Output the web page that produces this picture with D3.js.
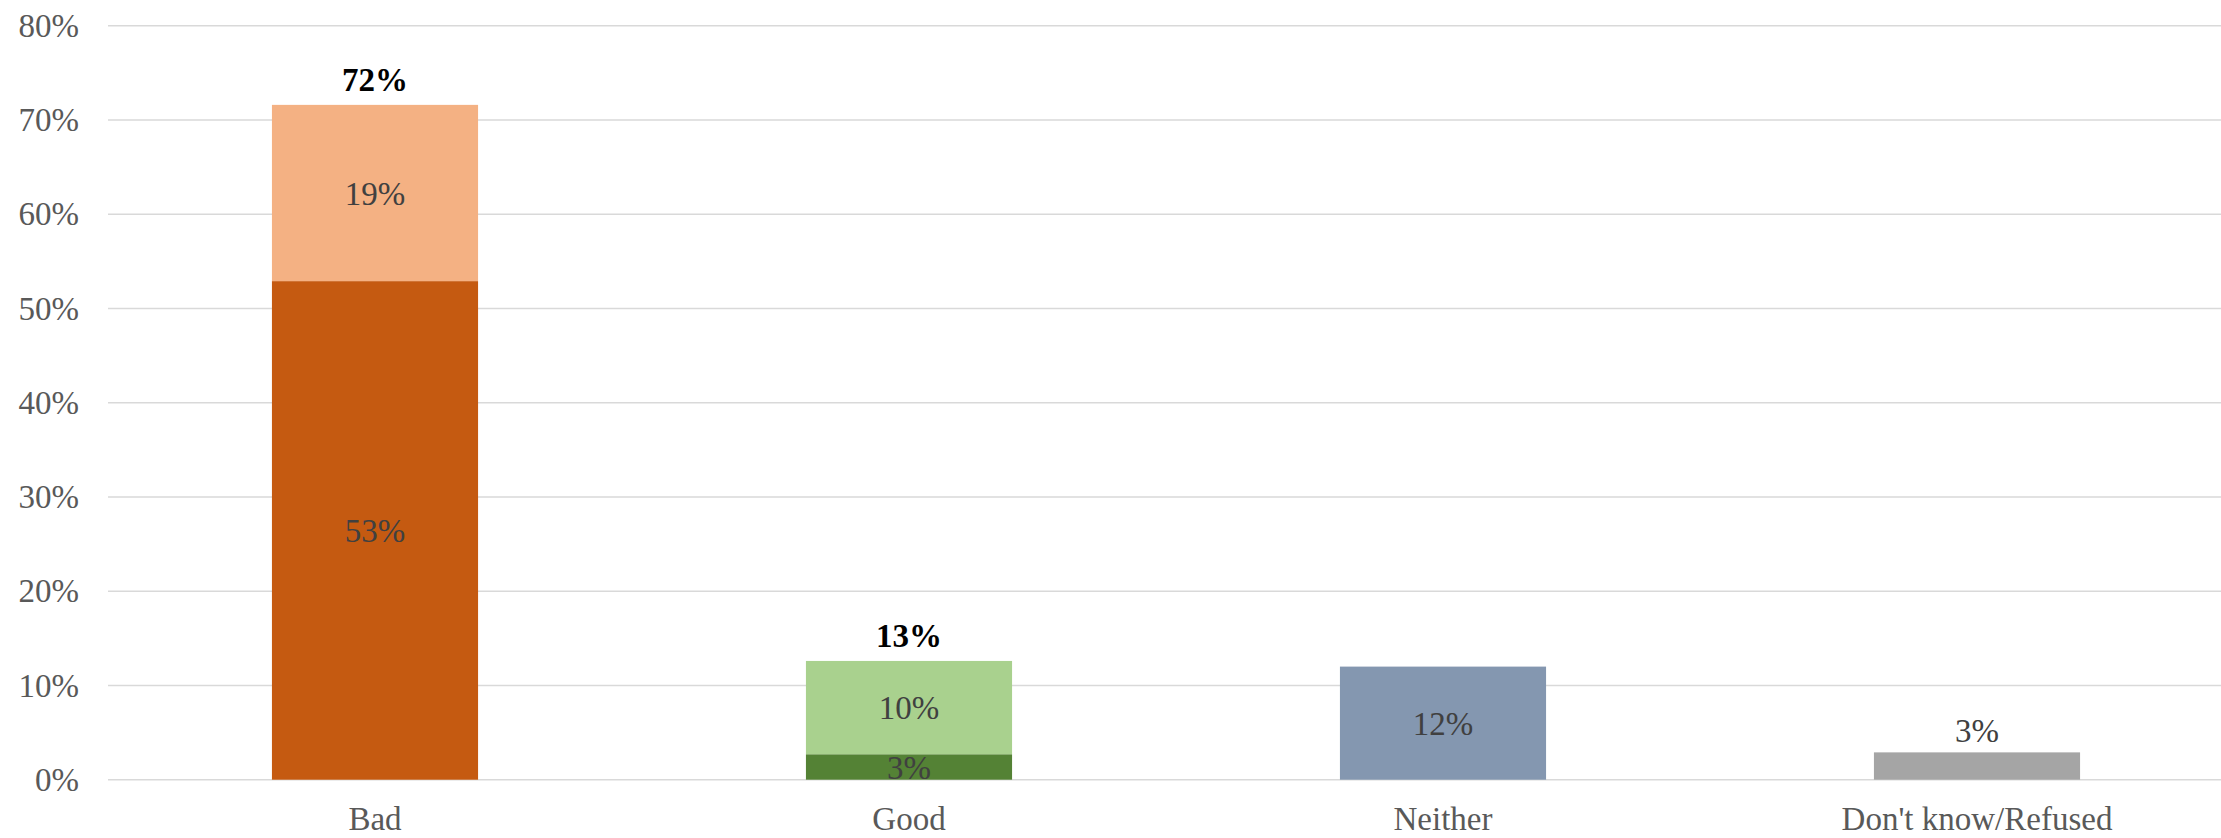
<!DOCTYPE html>
<html>
<head>
<meta charset="utf-8">
<script src="https://cdn.jsdelivr.net/npm/d3@7"></script>
<style>
  html, body { margin: 0; padding: 0; background: #ffffff; overflow: hidden; }
  svg { display: block; }
</style>
</head>
<body>
<svg id="chart" width="2221" height="838"></svg>
<script>
// ---- data ----
const categories = ["Bad", "Good", "Neither", "Don't know/Refused"];
const baseValues = [52.9, 2.7, 12.0, 2.9];
const topValues = [18.7, 9.9, 0, 0];
const baseLabels = ["53%", "3%", "12%", "3%"];
const topLabels = ["19%", "10%", null, null];
const totalLabels = ["72%", "13%", null, null];
const yTicks = [0, 10, 20, 30, 40, 50, 60, 70, 80];
const baseColors = ["#C55A11", "#548235", "#8497B0", "#A5A5A5"];
const topColors = ["#F4B183", "#A9D18E", null, null];

// ---- layout ----
const W = 2221, H = 838;
const plotLeft = 108, plotRight = 2244, plotTop = 25.7, plotBottom = 779.7;
const font = "'Liberation Serif', 'Times New Roman', serif";

const svg = d3.select("#chart");
const x = d3.scaleBand().domain(categories).range([plotLeft, plotRight]).paddingInner(0.614).paddingOuter(0.307);
const y = d3.scaleLinear().domain([0, 80]).range([plotBottom, plotTop]);

// gridlines
svg.append("g").selectAll("line").data(yTicks).join("line")
  .attr("x1", plotLeft).attr("x2", W)
  .attr("y1", d => y(d)).attr("y2", d => y(d))
  .attr("stroke", "#D9D9D9").attr("stroke-width", 1.6);

// y axis labels
const yAxis = d3.axisLeft(y).tickValues(yTicks).tickFormat(d => d + "%").tickSize(0).tickPadding(29);
const yg = svg.append("g").attr("transform", `translate(${plotLeft},0)`).call(yAxis);
yg.select(".domain").remove();
yg.selectAll("text").attr("font-family", font).attr("font-size", 33).attr("fill", "#595959");

// x axis labels
const xAxis = d3.axisBottom(x).tickSize(0).tickPadding(27);
const xg = svg.append("g").attr("transform", `translate(0,${plotBottom})`).call(xAxis);
xg.select(".domain").remove();
xg.selectAll("text").attr("font-family", font).attr("font-size", 33).attr("fill", "#595959");

const idx = categories.map((c, i) => i);

// base bars
svg.append("g").selectAll("rect").data(idx).join("rect")
  .attr("x", i => x(categories[i]))
  .attr("width", x.bandwidth())
  .attr("y", i => y(baseValues[i]))
  .attr("height", i => y(0) - y(baseValues[i]))
  .attr("fill", i => baseColors[i]);

// top bars
const topIdx = idx.filter(i => topValues[i] > 0);
svg.append("g").selectAll("rect").data(topIdx).join("rect")
  .attr("x", i => x(categories[i]))
  .attr("width", x.bandwidth())
  .attr("y", i => y(baseValues[i] + topValues[i]))
  .attr("height", i => y(baseValues[i]) - y(baseValues[i] + topValues[i]))
  .attr("fill", i => topColors[i]);

// base labels (inside, except DK which sits above its short bar)
svg.append("g").selectAll("text").data(idx).join("text")
  .attr("x", i => x(categories[i]) + x.bandwidth() / 2)
  .attr("y", i => i === 3 ? y(baseValues[i]) - 10 : (y(0) + y(baseValues[i])) / 2)
  .attr("dy", i => i === 3 ? 0 : "0.35em")
  .attr("text-anchor", "middle")
  .attr("font-family", font).attr("font-size", 33).attr("fill", "#404040")
  .text(i => baseLabels[i]);

// top labels
svg.append("g").selectAll("text").data(topIdx).join("text")
  .attr("x", i => x(categories[i]) + x.bandwidth() / 2)
  .attr("y", i => (y(baseValues[i]) + y(baseValues[i] + topValues[i])) / 2)
  .attr("dy", "0.35em")
  .attr("text-anchor", "middle")
  .attr("font-family", font).attr("font-size", 33).attr("fill", "#404040")
  .text(i => topLabels[i]);

// totals
const totIdx = idx.filter(i => totalLabels[i]);
svg.append("g").selectAll("text").data(totIdx).join("text")
  .attr("x", i => x(categories[i]) + x.bandwidth() / 2)
  .attr("y", i => y(baseValues[i] + topValues[i]) - 14)
  .attr("text-anchor", "middle")
  .attr("font-family", font).attr("font-size", 33).attr("font-weight", "bold").attr("fill", "#000000")
  .text(i => totalLabels[i]);
</script>
</body>
</html>
